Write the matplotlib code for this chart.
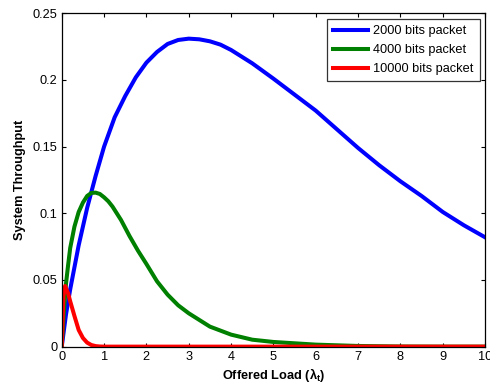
import matplotlib
matplotlib.use("Agg")
import matplotlib.pyplot as plt

plt.rcParams['font.family'] = ['Liberation Sans', 'DejaVu Sans']
plt.rcParams['mathtext.fontset'] = 'custom'
plt.rcParams['mathtext.bf'] = 'Liberation Sans:bold'
plt.rcParams['mathtext.rm'] = 'Liberation Sans'

# Data
x_2000 = [0, 0.1, 0.2, 0.4, 0.6, 0.8, 1.0, 1.25, 1.5, 1.75, 2, 2.25, 2.5,
          2.75, 3, 3.25, 3.5, 3.75, 4, 4.5, 5, 5.5, 6, 6.5, 7, 7.5, 8, 8.5,
          9, 9.5, 10]
y_2000 = [0, 0.024, 0.043, 0.076, 0.104, 0.128, 0.150, 0.172, 0.188, 0.202,
          0.213, 0.221, 0.227, 0.2300, 0.2310, 0.2305, 0.2290, 0.2265, 0.2225,
          0.2125, 0.2010, 0.1890, 0.1770, 0.1630, 0.1490, 0.1360, 0.1240,
          0.1130, 0.1010, 0.0910, 0.0820]

x_4000 = [0, 0.05, 0.1, 0.15, 0.2, 0.3, 0.4, 0.5, 0.6, 0.7, 0.8, 0.9, 1.0,
          1.1, 1.2, 1.3, 1.4, 1.5, 1.6, 1.8, 2.0, 2.25, 2.5, 2.75, 3, 3.5, 4,
          4.5, 5, 5.5, 6, 7, 8, 9, 10]
y_4000 = [0, 0.026, 0.047, 0.061, 0.074, 0.090, 0.101, 0.108, 0.113, 0.1153,
          0.1155, 0.1145, 0.112, 0.109, 0.105, 0.100, 0.095, 0.089, 0.083,
          0.072, 0.062, 0.049, 0.039, 0.031, 0.025, 0.015, 0.009, 0.0052,
          0.0035, 0.0025, 0.0015, 0.0005, 0.0001, 0, 0]

x_10000 = [0, 0.04, 0.08, 0.15, 0.2, 0.3, 0.4, 0.5, 0.6, 0.7, 0.8, 0.9, 1.0,
           2, 3, 4, 5, 6, 7, 8, 9, 10]
y_10000 = [0, 0.038, 0.0455, 0.040, 0.034, 0.023, 0.0125, 0.0065, 0.003,
           0.0012, 0.0004, 0.0001, 0, 0, 0, 0, 0, 0, 0, 0, 0, 0]

labels = ['2000 bits packet', '4000 bits packet', '10000 bits packet']
colors = ['#0000ff', '#008000', '#ff0000']

xticks = list(range(0, 11))
yticks = [0, 0.05, 0.1, 0.15, 0.2, 0.25]
ytick_labels = ['0', '0.05', '0.1', '0.15', '0.2', '0.25']

fig = plt.figure(figsize=(4.9, 3.86), dpi=100)
ax = fig.add_axes([0.126, 0.102, 0.864, 0.8635])

for xs, ys, lab, c in zip([x_2000, x_4000, x_10000],
                          [y_2000, y_4000, y_10000], labels, colors):
    ax.plot(xs, ys, color=c, lw=2.9, label=lab, solid_joinstyle='round')

ax.set_xlim(0, 10)
ax.set_ylim(0, 0.25)
ax.set_xticks(xticks)
ax.set_xticklabels([str(t) for t in xticks])
ax.set_yticks(yticks)
ax.set_yticklabels(ytick_labels)
ax.tick_params(direction='in', top=True, right=True, length=3, width=0.8,
               labelsize=9.2, pad=3)
for s in ax.spines.values():
    s.set_linewidth(0.9)

ax.set_xlabel(r'Offered Load (λ$_{\mathbf{t}}$)', fontsize=9.2,
              fontweight='bold', labelpad=2)
ax.set_ylabel('System Throughput', fontsize=9.2, fontweight='bold',
              labelpad=5)

leg = ax.legend(loc='upper right', fontsize=9.2, frameon=True, fancybox=False,
                edgecolor='black', handlelength=2.8, borderpad=0.45,
                labelspacing=0.56, handletextpad=0.4, borderaxespad=0,
                bbox_to_anchor=(0.987, 0.982))
leg.get_frame().set_linewidth(0.9)

fig.savefig('out.png', dpi=100)
